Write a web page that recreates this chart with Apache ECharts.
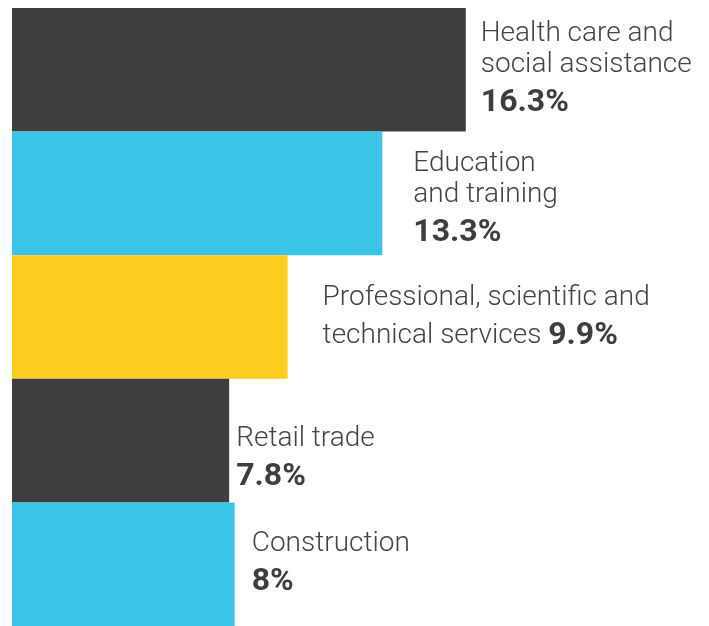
<!DOCTYPE html>
<html>
<head>
<meta charset="utf-8">
<script src="https://cdn.jsdelivr.net/npm/echarts@6/dist/echarts.min.js"></script>
<style>html,body{margin:0;padding:0;background:#fff;}#c{width:709px;height:626px;}</style>
</head>
<body>
<div id="c"></div>
<script>
const categories = ['Health care and social assistance', 'Education and training', 'Professional, scientific and technical services', 'Retail trade', 'Construction'];
const values = [16.3, 13.3, 9.9, 7.8, 8];
const labelLines = [['Health care and', 'social assistance'], ['Education', 'and training'], ['Professional, scientific and', 'technical services'], ['Retail trade'], ['Construction']];
const inlineValue = [false, false, true, false, false];
const barColors = ['#3e3e3e', '#3cc4e7', '#fdce21', '#3e3e3e', '#3cc4e7'];
const labelOffsets = [[15, 2], [31, 9], [35, 3], [7, 21], [17, 2]];

const chart = echarts.init(document.getElementById('c'));
const data = values.map((v, i) => ({
  value: v,
  itemStyle: { color: barColors[i] },
  label: { offset: labelOffsets[i] }
}));
chart.setOption({
  animation: false,
  grid: { left: 12, right: 1, top: 8, bottom: 0 },
  xAxis: { type: 'value', min: 0, max: 25, show: false },
  yAxis: { type: 'category', data: categories, inverse: true, show: false },
  series: [{
    type: 'bar',
    data: data,
    barWidth: '100%',
    barCategoryGap: 0,
    label: {
      show: true,
      position: 'right',
      distance: 0,
      formatter: function (p) {
        const i = p.dataIndex;
        const lines = labelLines[i].map(s => '{n|' + s + '}');
        const v = '{v|' + values[i] + '%}';
        if (inlineValue[i]) {
          lines[lines.length - 1] += '{n| }' + v;
          return lines.join('\n');
        }
        return lines.join('\n') + '\n' + v;
      },
      rich: {
        n: { fontFamily: 'Roboto, "Liberation Sans", sans-serif', fontWeight: 300, fontSize: 28, color: '#444', lineHeight: 31 },
        v: { fontFamily: 'Roboto, "Liberation Sans", sans-serif', fontWeight: 'bold', fontSize: 32, color: '#3e3e3e', lineHeight: 45 }
      }
    }
  }]
});
</script>
</body>
</html>
